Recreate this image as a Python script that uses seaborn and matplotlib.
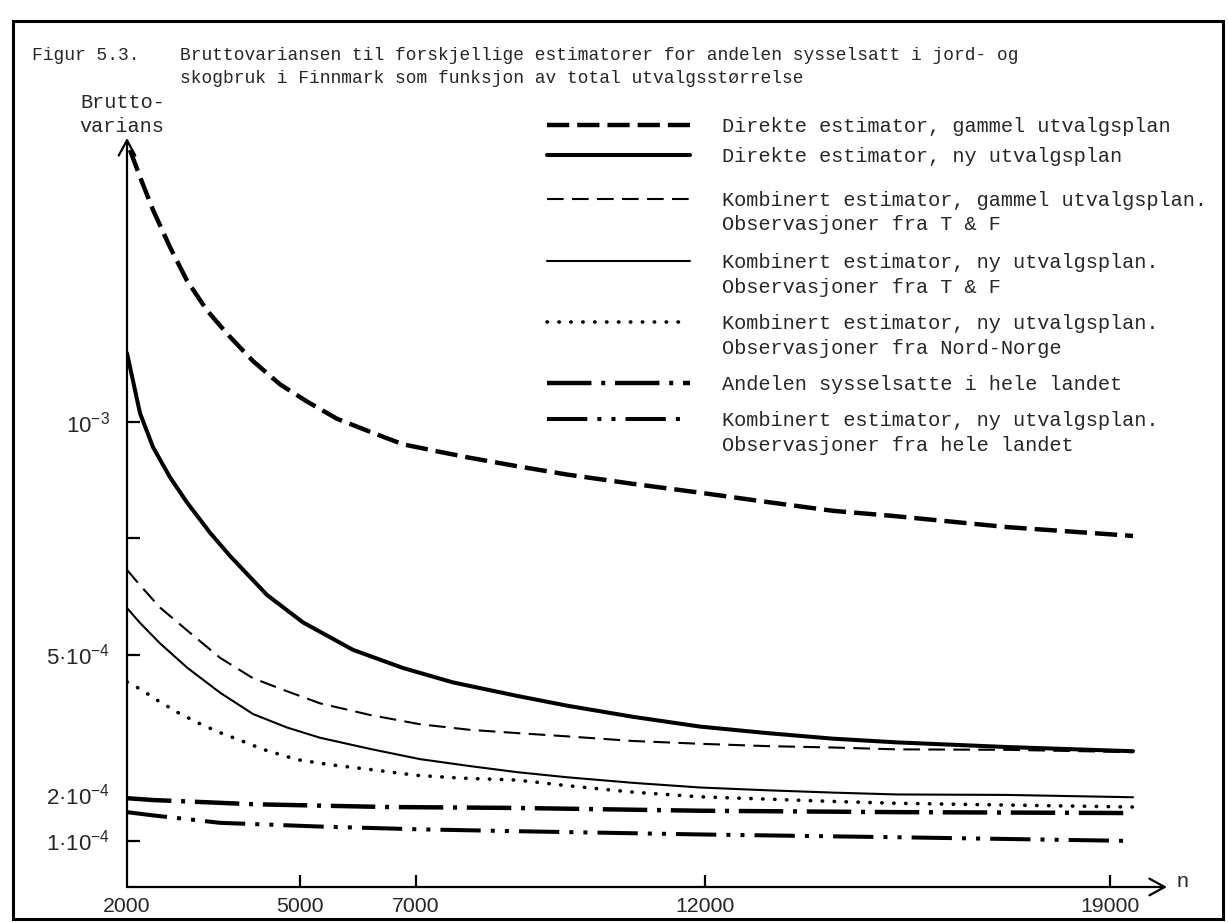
import numpy as np
import pandas as pd
import matplotlib
matplotlib.use("Agg")
import matplotlib.pyplot as plt
import seaborn as sns
from matplotlib.lines import Line2D
from matplotlib.patches import Rectangle

# ---------------- data (Bruttovarians in units of 1e-4, vs total sample size n) -------------
n_dir_gammel = [2052, 2225, 2450, 2744, 3038, 3384, 3730, 4180, 4647, 5114, 5633, 6204,
                6775, 7363, 7934, 8747, 9612, 10754, 11913, 13073, 14215, 15253, 17225, 19405]
v_dir_gammel = [15.85, 15.27, 14.56, 13.76, 13.04, 12.40, 11.90, 11.31, 10.81, 10.44, 10.07, 9.79,
                9.52, 9.37, 9.23, 9.05, 8.87, 8.67, 8.48, 8.28, 8.09, 7.98, 7.74, 7.55]

n_dir_ny = [2000, 2225, 2450, 2744, 3038, 3436, 3782, 4422, 5045, 5910, 6775, 7640, 8747,
            9612, 10754, 11913, 13073, 14215, 15322, 17225, 19405]
v_dir_ny = [11.48, 10.19, 9.46, 8.81, 8.27, 7.62, 7.12, 6.28, 5.69, 5.10, 4.71, 4.40, 4.11,
            3.90, 3.66, 3.45, 3.31, 3.19, 3.11, 3.01, 2.92]

n_komb_gammel_tf = [2000, 2225, 2571, 3038, 3609, 4180, 4768, 5339, 6204, 7069, 7934, 8747,
                    9612, 10754, 11913, 13073, 14215, 15322, 17225, 19405]
v_komb_gammel_tf = [6.82, 6.49, 6.01, 5.52, 4.93, 4.49, 4.21, 3.95, 3.70, 3.50, 3.38, 3.31,
                    3.24, 3.14, 3.08, 3.03, 3.00, 2.96, 2.95, 2.90]

n_komb_ny_tf = [2000, 2225, 2571, 3038, 3609, 4180, 4768, 5339, 6204, 7069, 7934, 8747,
                9612, 10754, 11913, 13073, 14215, 15322, 17225, 19405]
v_komb_ny_tf = [6.00, 5.68, 5.24, 4.72, 4.18, 3.72, 3.43, 3.21, 2.97, 2.75, 2.60, 2.47,
                2.36, 2.24, 2.14, 2.08, 2.03, 1.99, 1.98, 1.93]

n_komb_ny_nn = [2000, 2225, 2519, 2882, 3263, 3609, 3990, 4353, 4941, 5512, 6256, 7017, 7813,
                8747, 9612, 10754, 11913, 13073, 14215, 15322, 19405]
v_komb_ny_nn = [4.41, 4.26, 4.02, 3.75, 3.51, 3.32, 3.14, 2.96, 2.74, 2.63, 2.52, 2.40, 2.34,
                2.30, 2.18, 2.04, 1.94, 1.89, 1.84, 1.80, 1.72]

n_andel = [2000, 2450, 3038, 4180, 6500, 8747, 11913, 15322, 19405]
v_andel = [1.91, 1.87, 1.84, 1.78, 1.72, 1.70, 1.64, 1.61, 1.59]

n_komb_ny_hele = [2000, 2450, 3038, 3609, 5339, 7069, 8747, 11913, 15322, 19405]
v_komb_ny_hele = [1.61, 1.54, 1.46, 1.38, 1.30, 1.24, 1.20, 1.13, 1.07, 0.99]

legend_labels = [
    ["Direkte estimator, gammel utvalgsplan"],
    ["Direkte estimator, ny utvalgsplan"],
    ["Kombinert estimator, gammel utvalgsplan.", "Observasjoner fra T & F"],
    ["Kombinert estimator, ny utvalgsplan.", "Observasjoner fra T & F"],
    ["Kombinert estimator, ny utvalgsplan.", "Observasjoner fra Nord-Norge"],
    ["Andelen sysselsatte i hele landet"],
    ["Kombinert estimator, ny utvalgsplan.", "Observasjoner fra hele landet"],
]

x_ticks = [2000, 5000, 7000, 12000, 19000]
x_ticklabels = ["2000", "5000", "7000", "12000", "19000"]
y_ticks = [1, 2, 5, 7.5, 10]
y_ticklabels = ["1·10$^{-4}$", "2·10$^{-4}$", "5·10$^{-4}$", "", "10$^{-3}$"]

title_num = "Figur 5.3."
title_lines = ["Bruttovariansen til forskjellige estimatorer for andelen sysselsatt i jord- og",
               "skogbruk i Finnmark som funksjon av total utvalgsstørrelse"]

# ---------------- styling -------------
sns.set_theme(style="white")
plt.rcParams["font.family"] = ["Liberation Mono", "DejaVu Sans Mono"]
plt.rcParams["mathtext.fontset"] = "custom"
plt.rcParams["mathtext.rm"] = "Liberation Sans"
plt.rcParams["mathtext.it"] = "Liberation Sans:italic"
plt.rcParams["mathtext.bf"] = "Liberation Sans:bold"

W, H = 1228, 922
fig = plt.figure(figsize=(W / 100, H / 100), dpi=100)
fig.patch.set_facecolor("white")


def fx(px):
    return px / W


def fy(py):
    return 1 - py / H


ax = fig.add_axes([fx(127), fy(887), fx(1167) - fx(127), fy(138) - fy(887)])
ax.set_facecolor("white")
ax.set_xlim(2000, 2000 + (1167 - 127) / 0.0578)
ax.set_ylim(0, (887 - 138) / 46.5)

series = [
    (n_dir_gammel, v_dir_gammel, dict(linewidth=3.2, linestyle=(0, (5, 1.8)))),
    (n_dir_ny, v_dir_ny, dict(linewidth=2.9, linestyle="-")),
    (n_komb_gammel_tf, v_komb_gammel_tf, dict(linewidth=1.5, linestyle=(0, (8, 4)))),
    (n_komb_ny_tf, v_komb_ny_tf, dict(linewidth=1.5, linestyle="-")),
    (n_komb_ny_nn, v_komb_ny_nn, dict(linewidth=2.6, linestyle=(0, (0.1, 3.2)),
                                      dash_capstyle="round")),
    (n_andel, v_andel, dict(linewidth=3.2, linestyle=(0, (10, 2.2, 0.9, 2.2)))),
    (n_komb_ny_hele, v_komb_ny_hele, dict(linewidth=2.9,
                                          linestyle=(0, (10, 2.5, 1, 2.5, 1, 2.5)))),
]

for n, v, st in series:
    sns.lineplot(x=n, y=v, ax=ax, color="black", estimator=None, sort=False,
                 legend=False, **st)

# axes with arrows
for s in ax.spines.values():
    s.set_visible(False)
arrow_kw = dict(arrowstyle="->,head_length=0.55,head_width=0.3", color="black", lw=1.6,
                shrinkA=0, shrinkB=0, mutation_scale=20)
ax.annotate("", xy=(1, 0), xytext=(0, 0), xycoords="axes fraction",
            textcoords="axes fraction", arrowprops=arrow_kw, annotation_clip=False)
ax.annotate("", xy=(0, 1), xytext=(0, 0), xycoords="axes fraction",
            textcoords="axes fraction", arrowprops=arrow_kw, annotation_clip=False)

ax.set_xticks(x_ticks)
ax.set_xticklabels(x_ticklabels, fontdict=dict(family="Liberation Sans", size=15.3))
ax.set_yticks(y_ticks)
ax.set_yticklabels(y_ticklabels, fontdict=dict(family="Liberation Sans", size=16))
ax.tick_params(axis="x", direction="in", length=9, width=1.6, color="black", pad=7,
               bottom=True)
ax.tick_params(axis="y", direction="in", length=9, width=1.6, color="black", pad=12,
               left=True)
ax.xaxis.get_major_ticks()[0].tick1line.set_visible(False)
ax.yaxis.get_major_ticks()[1].tick1line.set_visible(False)
ax.grid(False)

fig.text(fx(1182), fy(881), "n", ha="center", va="center", fontsize=15.3,
         family="Liberation Sans")

# y-axis label
fig.text(fx(123), fy(108), "Brutto-", ha="center", va="baseline", fontsize=14.6)
fig.text(fx(122), fy(132), "varians", ha="center", va="baseline", fontsize=14.6)

# title
fig.text(fx(32), fy(60), title_num, ha="left", va="baseline", fontsize=12.9)
for i, line in enumerate(title_lines):
    fig.text(fx(180), fy(60 + 23 * i), line, ha="left", va="baseline", fontsize=12.9)

# legend (manual, handles share the series styles)
leg_rows = [125, 155, 199, 261, 322, 383, 419]
for (n, v, st), lines, yy in zip(series, legend_labels, leg_rows):
    fig.add_artist(Line2D([fx(547), fx(690)], [fy(yy), fy(yy)], color="black",
                          transform=fig.transFigure, **st))
    for i, line in enumerate(lines):
        fig.text(fx(722), fy(yy + 7 + 24.5 * i), line, ha="left", va="baseline",
                 fontsize=14.6)

# frame
fig.add_artist(Rectangle((fx(13), fy(919)), fx(1223) - fx(13), fy(21) - fy(919),
                         transform=fig.transFigure, fill=False, edgecolor="black",
                         linewidth=2.2))

fig.savefig("out.png", dpi=100, facecolor="white")
